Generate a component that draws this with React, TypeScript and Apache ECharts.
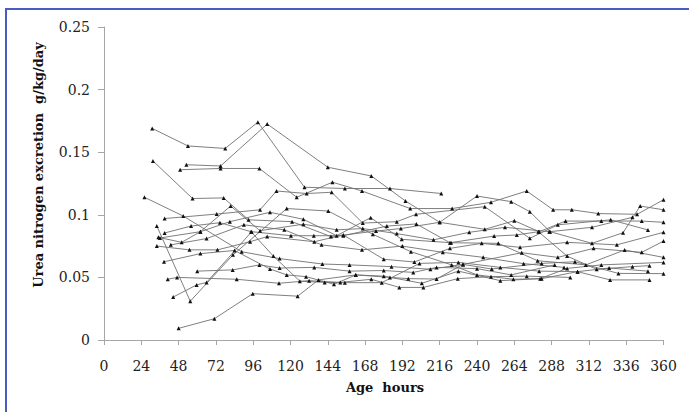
import React, { useEffect, useRef } from "react";
import * as echarts from "echarts";

const xTicks = [0, 24, 48, 72, 96, 120, 144, 168, 192, 216, 240, 264, 288, 312, 336, 360];
const yTicks = [0, 0.05, 0.1, 0.15, 0.2, 0.25];

const s01 = [[31, 0.169], [54, 0.155], [78, 0.153], [99, 0.174], [129, 0.122], [155, 0.121], [184, 0.121], [217, 0.117]];
const s02 = [[53, 0.140], [75, 0.139], [105, 0.1725], [144, 0.138], [172, 0.131], [194, 0.111], [216, 0.094], [245, 0.0884], [264, 0.0953], [280, 0.0865], [297, 0.095], [320, 0.095], [346, 0.095], [360, 0.094]];
const s03 = [[49, 0.136], [75, 0.137], [100, 0.137], [124, 0.114], [147, 0.126], [166, 0.119], [197, 0.105], [224, 0.105], [249, 0.110], [272, 0.119], [289, 0.104], [301, 0.104], [318, 0.101], [343, 0.1004], [360, 0.112]];
const s04 = [[31.5, 0.143], [57, 0.113], [77, 0.1135], [93, 0.096], [121, 0.0945], [146, 0.0826], [175, 0.087], [191, 0.089], [216, 0.094], [240, 0.115], [262, 0.1105], [274, 0.1025], [287, 0.0865], [314, 0.0772], [334, 0.0857], [345, 0.107], [360, 0.104]];
const s05 = [[26, 0.114], [51, 0.099], [88.6, 0.0705], [113, 0.065], [140.5, 0.0607], [158, 0.060], [185, 0.0586], [210, 0.0565], [231, 0.0604], [249.5, 0.0567], [281.6, 0.0612], [303, 0.0625], [331, 0.0532], [360, 0.053]];
const s06 = [[34, 0.091], [55.5, 0.031], [83, 0.068], [117.6, 0.105], [144.3, 0.103], [173, 0.0844], [197.5, 0.0705], [223.7, 0.060], [240, 0.052], [263.4, 0.0485], [281.6, 0.049], [304.7, 0.0546], [325.6, 0.048], [351, 0.048]];
const s07 = [[44.5, 0.0343], [59.6, 0.044], [66, 0.046], [95, 0.0865], [120.3, 0.0833], [135, 0.0833], [154, 0.0833], [182, 0.091], [201, 0.0927], [222.6, 0.0777], [251, 0.083], [265.6, 0.0839], [279.5, 0.0865], [298, 0.067], [317, 0.0565], [340, 0.0586], [351, 0.0594]];
const s08 = [[48, 0.0093], [71, 0.017], [95.7, 0.037], [124.6, 0.035], [138, 0.048], [162, 0.052], [180, 0.051], [204.5, 0.0453], [228, 0.055], [255, 0.0474], [280.6, 0.049], [298, 0.0572], [320, 0.060], [360, 0.062]];
const s09 = [[41, 0.0485], [47, 0.050], [85.4, 0.0485], [112.6, 0.0453], [132, 0.0474], [152, 0.046], [172, 0.0485], [190, 0.042], [205.5, 0.042], [227.6, 0.049], [249, 0.0506], [272, 0.051], [300, 0.050]];
const s10 = [[38.6, 0.0625], [62, 0.069], [84, 0.0715], [106.8, 0.0567], [117.6, 0.052], [130, 0.0506], [148, 0.0445], [162, 0.052], [184, 0.050], [195.8, 0.049], [214, 0.0487], [231, 0.0604], [268.8, 0.0697], [292, 0.066], [315, 0.0732], [346, 0.070], [360, 0.079]];
const s11 = [[34, 0.075], [55, 0.072], [73, 0.072], [94, 0.0785], [105, 0.0826], [135.3, 0.0785], [154, 0.0839], [180, 0.0645], [199.7, 0.0623], [222.6, 0.0732], [243, 0.0772], [267.7, 0.074], [298, 0.078], [330, 0.076], [360, 0.086]];
const s12 = [[39, 0.097], [72.5, 0.1006], [100.4, 0.104], [111, 0.119], [130.4, 0.117], [146.5, 0.118], [166.5, 0.0934], [188.4, 0.0945], [200.8, 0.1004], [245, 0.1065], [274, 0.0812], [292, 0.092], [326, 0.096], [350, 0.0879]];
const s13 = [[36, 0.0815], [62, 0.0865], [81, 0.0945], [106.8, 0.102], [128.3, 0.0964], [149.7, 0.0833], [171.6, 0.0977], [191.6, 0.0804], [223.3, 0.0777], [253.7, 0.0772], [279, 0.0633], [310, 0.060], [335, 0.0719], [360, 0.066]];
const s14 = [[39, 0.0855], [56, 0.091], [74.6, 0.0937], [94.6, 0.0865], [109, 0.067], [126, 0.047], [142, 0.046], [155, 0.0458], [178.7, 0.0458], [203, 0.0612], [228, 0.062], [255, 0.058], [280, 0.055], [304.7, 0.0546], [325, 0.0575], [350, 0.055]];
const s15 = [[60, 0.055], [82.8, 0.056], [100, 0.060], [113, 0.0575], [135.3, 0.058], [158, 0.055], [180, 0.0555], [199, 0.054], [214, 0.058], [240, 0.057], [262, 0.052], [290, 0.060]];
const s16 = [[35, 0.082], [50, 0.078], [62, 0.0865], [81.5, 0.107], [100.4, 0.0873], [128.3, 0.0925], [149.7, 0.0880], [166.5, 0.0890], [188.4, 0.0850], [212, 0.0800], [235, 0.0860], [258, 0.0900], [286.5, 0.0865], [314, 0.0900], [340, 0.0980]];
const s17 = [[43, 0.076], [66, 0.081], [90, 0.092], [116, 0.088], [140, 0.076], [166, 0.072], [192, 0.075], [218, 0.070], [244, 0.066], [270, 0.061], [296, 0.058]];

const seriesList = [s01, s02, s03, s04, s05, s06, s07, s08, s09, s10, s11, s12, s13, s14, s15, s16, s17];

const tickFont = "'DejaVu Serif', 'Liberation Serif', serif";

export default function App() {
  const ref = useRef<HTMLDivElement>(null);
  useEffect(() => {
    if (!ref.current) return;
    const chart = echarts.init(ref.current, null, { renderer: "svg" });
    chart.setOption({
      animation: false,
      backgroundColor: "#fff",
      grid: { left: 104, right: 25.5, top: 27, bottom: 72 },
      xAxis: {
        type: "value",
        min: 0,
        max: 360,
        interval: 24,
        axisLine: { lineStyle: { color: "#a6a6a6", width: 1 } },
        axisTick: { show: true, length: 5, lineStyle: { color: "#a6a6a6" } },
        axisLabel: {
          margin: 19,
          color: "#222",
          fontFamily: tickFont,
          fontSize: 14,
          customValues: xTicks,
        },
        splitLine: { show: false },
      },
      yAxis: {
        type: "value",
        min: 0,
        max: 0.25,
        interval: 0.05,
        axisLine: { show: true, lineStyle: { color: "#a6a6a6", width: 1 } },
        axisTick: { show: true, length: 6, lineStyle: { color: "#a6a6a6" } },
        axisLabel: {
          margin: 14,
          color: "#222",
          fontFamily: tickFont,
          fontSize: 14,
          formatter: (v: number) => String(+v.toFixed(2)),
        },
        splitLine: { show: false },
      },
      graphic: [
        {
          type: "rect",
          shape: { x: 6, y: 9, width: 900, height: 600 },
          style: { fill: "none", stroke: "#4a5cc0", lineWidth: 2 },
          silent: true,
        },
        {
          type: "text",
          x: 38,
          y: 165,
          rotation: Math.PI / 2,
          style: {
            text: "Urea nitrogen excretion  g/kg/day",
            align: "center",
            verticalAlign: "middle",
            fontFamily: tickFont,
            fontWeight: "bold",
            fontSize: 13,
            fill: "#111",
          },
        },
        {
          type: "text",
          x: 385,
          y: 387,
          style: {
            text: "Age  hours",
            align: "center",
            verticalAlign: "middle",
            fontFamily: tickFont,
            fontWeight: "bold",
            fontSize: 13,
            fill: "#111",
          },
        },
      ],
      series: seriesList.map((d, i) => ({
        name: "infant" + (i + 1),
        type: "line",
        data: d,
        symbol: "triangle",
        symbolSize: 4,
        showSymbol: true,
        itemStyle: { color: "#111" },
        lineStyle: { color: "#707070", width: 0.9 },
        z: 2,
      })),
    });
    return () => chart.dispose();
  }, []);
  return (
    <div
      ref={ref}
      style={{ position: "fixed", left: 0, top: 0, width: 689, height: 412 }}
    />
  );
}
